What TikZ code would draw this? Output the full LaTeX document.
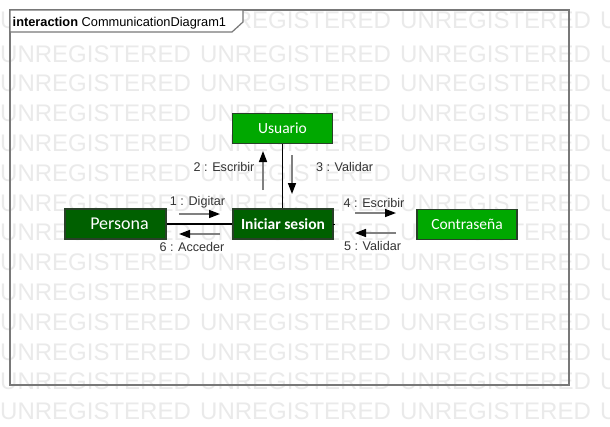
\documentclass[tikz,border=0pt]{standalone}
\usepackage{fontspec}
\setmainfont{Liberation Sans}
\newfontfamily\nodefont{Carlito}
\usetikzlibrary{arrows.meta}
\definecolor{wmgray}{RGB}{234,234,234}
\definecolor{brightgreen}{RGB}{0,168,0}
\definecolor{darkgreen}{RGB}{0,96,0}
\definecolor{boxborder}{RGB}{40,64,40}
\definecolor{framegray}{RGB}{120,120,120}
\definecolor{labelgray}{RGB}{51,51,51}
\definecolor{shaftgray}{RGB}{128,128,128}
\tikzset{
  wm/.style={inner sep=0pt, text=wmgray, font=\fontsize{24}{26}\selectfont},
  objbox/.style={draw=boxborder, line width=1.5pt, minimum width=100pt, minimum height=30pt, inner sep=0pt, text=white},
  litebox/.style={objbox, fill=brightgreen, font=\nodefont\fontsize{15.5}{17}\selectfont},
  darkbox/.style={objbox, fill=darkgreen},
  link/.style={draw=black, line width=1.6pt},
  msg/.style={draw=shaftgray, line width=1.5pt, -{Triangle[length=11pt,width=8pt,black]}},
  msglabel/.style={inner sep=0pt, text=labelgray, font=\fontsize{12.6}{14}\selectfont}
}
\begin{document}
\begin{tikzpicture}[x=1pt,y=-1pt]
\useasboundingbox (0,0) rectangle (610,426);
\fill[white] (0,0) rectangle (610,426);
\begin{scope}
\clip (0,0) rectangle (610,426);
\foreach \c in {0,1,2,3}{
  \node[wm, anchor=base west] (wmtop\c) at (200*\c,28) {UNREGISTERED};
  \foreach \k in {1,...,13}{
    \node[wm, anchor=base west] (wm\k-\c) at (200*\c,62+29.8*\k-29.8) {UNREGISTERED};
  }
}
\end{scope}
% frame
\draw[framegray, line width=2pt] (10,10) rectangle (569,385);
\draw[framegray, line width=1.2pt, fill=white] (10,10) -- (243,10) -- (243,22) -- (232,32) -- (10,32) -- cycle;
\node[anchor=base west, inner sep=0pt, font=\fontsize{12.8}{14}\selectfont] (title) at (12.5,26) {\textbf{interaction} CommunicationDiagram1};
% objects
\node[litebox] (usuario) at (282.5,128.5) {Usuario};
\node[darkbox, minimum width=101pt, font=\nodefont\fontsize{18}{20}\selectfont] (persona) at (115.5,224) {\hspace*{8pt}Persona};
\node[darkbox, font=\nodefont\bfseries\fontsize{15.5}{17}\selectfont] (iniciar) at (283,224) {Iniciar sesion};
\node[litebox] (contra) at (467,224.5) {Contraseña};
% links
\draw[link] (persona.east) -- (persona.east -| iniciar.west);
\draw[link] (iniciar.east) -- (iniciar.east |- contra.west);
\draw[link] (usuario.south) -- (usuario.south |- iniciar.north);
% messages
\coordinate (m1a) at (179,214); \coordinate (m1b) at (220,214);
\draw[msg] (m1a) -- (m1b);
\node[msglabel] (l1) at (197.5,202) {1 : Digitar};
\coordinate (m6a) at (220,234); \coordinate (m6b) at (179,234);
\draw[msg] (m6a) -- (m6b);
\node[msglabel] (l6) at (192,247) {6 : Acceder};
\coordinate (m2a) at (263,190); \coordinate (m2b) at (263,151);
\draw[msg] (m2a) -- (m2b);
\node[msglabel] (l2) at (224,167) {2 : Escribir};
\coordinate (m3a) at (292,155); \coordinate (m3b) at (292,194);
\draw[msg] (m3a) -- (m3b);
\node[msglabel] (l3) at (344.5,167) {3 : Validar};
\coordinate (m4a) at (355,213); \coordinate (m4b) at (396,213);
\draw[msg] (m4a) -- (m4b);
\node[msglabel] (l4) at (374,203) {4 : Escribir};
\coordinate (m5a) at (396,233); \coordinate (m5b) at (355,233);
\draw[msg] (m5a) -- (m5b);
\node[msglabel] (l5) at (372.5,246) {5 : Validar};
\end{tikzpicture}
\end{document}
